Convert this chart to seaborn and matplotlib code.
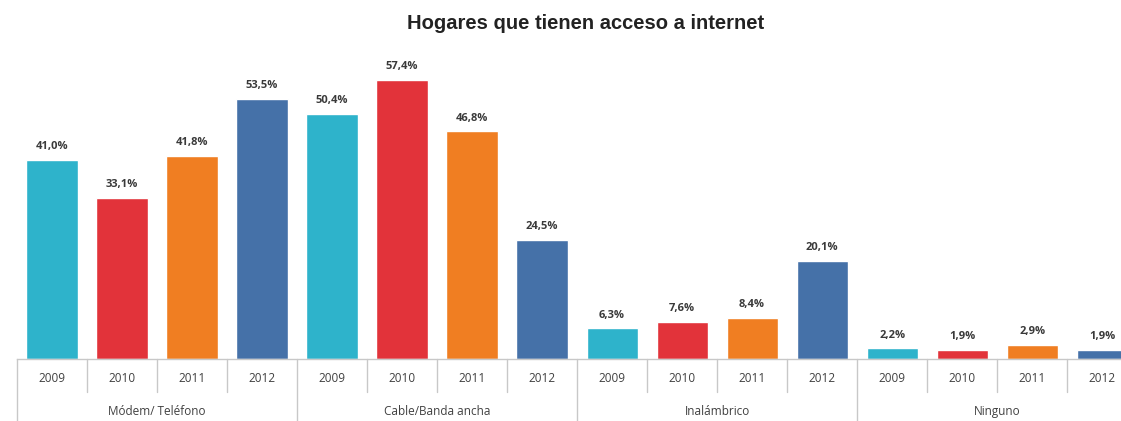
import matplotlib
matplotlib.use("Agg")
import matplotlib.pyplot as plt
import matplotlib.transforms as mtransforms
import seaborn as sns
import pandas as pd

# Data: share of households by type of internet access, per year
groups = ["Módem/ Teléfono", "Cable/Banda ancha", "Inalámbrico", "Ninguno"]
years = ["2009", "2010", "2011", "2012"]
modem = [41.0, 33.1, 41.8, 53.5]
cable = [50.4, 57.4, 46.8, 24.5]
inalambrico = [6.3, 7.6, 8.4, 20.1]
ninguno = [2.2, 1.9, 2.9, 1.9]
year_colors = ["#2EB3CB", "#E2333A", "#F07E22", "#4571A8"]

series = [modem, cable, inalambrico, ninguno]
rows = []
for g, vals in zip(groups, series):
    for y, v in zip(years, vals):
        rows.append({"bar": f"{g} {y}", "grupo": g, "año": y, "valor": v})
df = pd.DataFrame(rows)

sns.set_theme(style="white")
plt.rcParams["font.family"] = ["Open Sans", "DejaVu Sans"]

fig = plt.figure(figsize=(11.21, 4.21), dpi=100)
ax = fig.add_axes([17 / 1121, 62 / 421, 1 - 17 / 1121, 300 / 421])

sns.barplot(data=df, x="bar", y="valor", hue="año", palette=year_colors,
            dodge=False, width=0.73, legend=False, ax=ax, saturation=1)

n = len(df)
ax.set_xlim(-0.5, 15.27)
ax.set_ylim(0, 61.7)
ax.set_yticks([])
ax.set_ylabel("")
ax.set_xlabel("")
for s in ["top", "right", "left"]:
    ax.spines[s].set_visible(False)
ax.spines["bottom"].set_color("#C8C8C8")
ax.spines["bottom"].set_linewidth(1.0)

# Value labels above each bar
for i, v in enumerate(df["valor"]):
    ax.text(i, v + 1.6, f"{v:.1f}%".replace(".", ","), ha="center", va="bottom",
            fontsize=8, fontweight="bold", color="#3A3A3A")

# Year tick labels
ax.set_xticks(range(n))
ax.set_xticklabels(df["año"], fontsize=8.5, color="#404040")
ax.tick_params(axis="x", length=0, pad=9)

trans = mtransforms.blended_transform_factory(ax.transData, ax.transAxes)
sep_color = "#C8C8C8"
# Short separators between years, long ones between groups
for k in range(n + 1):
    x = k - 0.5
    if k % 4 == 0:
        ax.plot([x, x], [0, -0.22], transform=trans, color=sep_color, lw=1.0,
                clip_on=False)
    else:
        ax.plot([x, x], [0, -0.11], transform=trans, color=sep_color, lw=1.0,
                clip_on=False)

# Group labels
for gi, g in enumerate(groups):
    ax.text(gi * 4 + 1.5, -0.175, g, transform=trans, ha="center", va="center",
            fontsize=8.5, color="#404040")

fig.text(0.522, 0.945, "Hogares que tienen acceso a internet", ha="center",
         va="center", fontsize=14.5, fontweight="bold", color="#222222",
         family=["Liberation Sans", "DejaVu Sans"])

fig.savefig("out.png", dpi=100)
